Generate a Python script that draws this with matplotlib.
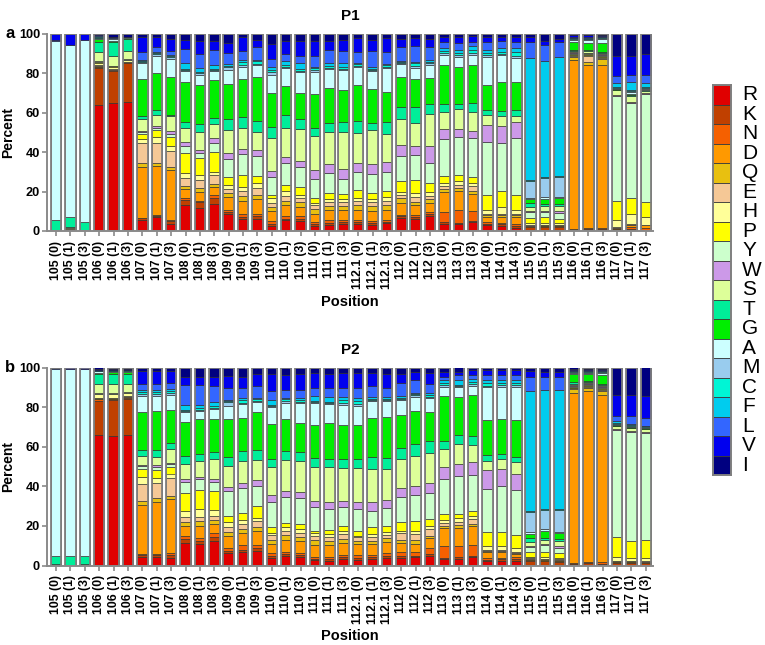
import numpy as np
import matplotlib
matplotlib.use("Agg")
import matplotlib.pyplot as plt

plt.rcParams["font.family"] = ["Liberation Sans", "DejaVu Sans"]

positions = ["105", "106", "107", "108", "109", "110", "111",
             "112.1", "112", "113", "114", "115", "116", "117"]
rounds = ["0", "1", "3"]
bar_labels = [f"{p} ({r})" for p in positions for r in rounds]

residues = ["R", "K", "N", "D", "Q", "E", "H", "P", "Y", "W",
            "S", "T", "G", "A", "M", "C", "F", "L", "V", "I"]
colors = ["#e00000", "#c04000", "#f56000", "#ff9900", "#e8c010",
          "#f5c896", "#ffff99", "#ffff00", "#ccffcc", "#cc99e8",
          "#ddff99", "#00ee99", "#00ee00", "#ccffff", "#99ccee",
          "#00f5d5", "#00ccee", "#3366ff", "#0000ee", "#000080"]

# ---- P1 (percent per residue, one value per bar) ----
p1_R = [.3, 0, 0, 64, 64.9, 65.3, 5.4, 7, 3.7, 13.1, 11.7, 13.9, 8.5, 5.9, 6.3,
        2.5, 5.4, 5.1, 2.5, 3.2, 3.7, 3.4, 2.9, 3.9, 6.6, 5.9, 7.5, 3.7, 3.4, 4.6,
        2.9, 2.5, 1.5, .5, .5, .4, .2, .3, .3, .3, .2, .2]
p1_K = [0, 0, 0, 18.5, 16.4, 20, 1.1, .8, 1.3, 2.4, 2.8, 2.9, 1, 1.1, 1.2,
        .9, .9, 1.1, 1, .8, .9, 1.1, 1.1, .9, .9, 1.1, .9, .6, .8, .6,
        .8, .8, 1, 1.4, 1.5, 1.6, .5, .7, .6, .6, .8, .4]
p1_N = [0, 0, 0, .7, .3, .3, .3, .4, .5, 1, 1, 1.5, 1, 1.5, 1,
        1.6, 1.5, 1.3, 1, 1.4, 1.2, 1, 1, 1, .5, 1, 1.1, 5.4, 6.3, 4.8,
        1, 1, 1.2, .3, .3, .4, .5, .5, .6, .3, 1.2, .8]
p1_D = [0, 0, 0, .3, 0, 0, 25.8, 24.7, 25.4, 4.5, 4.4, 3.8, 6.8, 6.8, 7.5,
        5.2, 5.3, 4.7, 4.3, 5.5, 5.1, 5, 5.2, 5, 6.4, 5, 4.6, 10, 9.7, 8.5,
        2.4, 2.8, 3.4, .3, .3, .3, 85.2, 82, 82.9, .3, .7, 1.5]
p1_Q = [0, 0, 0, .3, .3, 0, 1.9, 1.6, 1.6, 1.7, 2.1, 1.9, 2.1, 2.4, 2.2,
        2.1, 2.2, 2.3, 2.2, 1.6, 1.9, 2.5, 2.3, 2.2, 2.1, 1.9, 1.9, 1.5, 1.3, 1.7,
        .8, 1, 1, .3, .3, .3, 1.7, 1.7, 3, .2, .3, .2]
p1_E = [0, 1, 0, .3, .4, .4, 10, 10.2, 8.1, 4.2, 3.8, 4.4, 2.1, 2.7, 3.4,
        2.1, 2.4, 2, 2, 2.3, 1.8, 2, 2, 2.3, 1.7, 2.5, 1.8, 1.5, 1.5, 2.6,
        .6, .7, .7, .3, .3, .3, .5, 2.9, .5, .2, .3, .2]
p1_H = [0, .5, 0, 1.2, .8, .6, 2.2, 3.2, 3, 2.2, 2.6, 1.6, 1.9, 1.9, 2.5,
        2.1, 2.5, 1.7, 1.3, 1.5, 1.7, 1.8, 1.8, 2.2, 1.7, 1.8, 1.8, 1.5, 2.3, 1.2,
        2.2, 3.4, 1.7, .8, 1, .8, .5, .6, .6, 3.5, 5, 4]
p1_P = [0, 0, 0, .3, .6, .3, 2.7, 3.6, 4.3, 10.2, 8.8, 10.2, 4.2, 6.1, 3.9,
        2, 3.4, 4.2, 2.2, 3.1, 2.7, 3.9, 3.1, 3, 5.6, 6.5, 5, 3.4, 3.1, 3.3,
        7.7, 8, 7.7, 3, 2.7, 2.4, .5, .6, .5, 9.7, 8.1, 7.7]
p1_Y = [.3, 0, 0, .5, .3, .3, .8, 1, 1.6, 3.4, 2.7, 4.3, 9.3, 10.5, 10.2,
        9, 10.7, 10.2, 9.8, 9.8, 7.3, 9, 9.5, 9.5, 12.5, 12.8, 9.7, 19, 19, 19.6,
        27.1, 24.3, 28.8, 2.9, 2.6, 3, .5, .4, .5, 54, 48.8, 55.2]
p1_W = [0, 0, 0, 0, 0, 0, .8, 1, 1.5, 2, 1.5, 2.5, 2.8, 2.7, 2.9,
        2.9, 3.4, 2.9, 4.6, 4.6, 5.1, 4.9, 4.9, 5.1, 5.3, 4.4, 9, 4.8, 4.2, 3.4,
        8.5, 9, 8.5, .5, .8, 1, .3, .2, .3, .3, .3, .3]
p1_S = [0, .5, .3, 4.7, 4.6, 4.3, 5.6, 5.5, 7.5, 7.2, 9, 7.2, 12, 10.5, 9.3,
        17, 14.8, 16.3, 17.5, 16.3, 18.7, 15, 17.5, 14, 13.2, 11.9, 16.1, 8.5, 10.2, 9.8,
        4.8, 5.1, 3.1, 2.1, 2.2, 2.5, .5, .6, .6, 2.3, 3.4, 1.3]
p1_T = [4.8, 5, 4.2, 5, 7.3, 6, 1.7, 2.4, .8, 3, 3.8, 3.4, 5.3, 5.8, 5.6,
        5.4, 6.4, 5.1, 4.1, 4.6, 5.4, 6.3, 3.4, 6.4, 6.1, 8, 4.9, 4.3, 2.5, 4.3,
        2.9, 2.4, 2.9, 2, 1, 1, .6, .5, .5, .3, .6, .3]
p1_G = [0, 0, 0, 1.5, .8, .5, 19, 19, 19.2, 20.4, 20.3, 18.8, 18.1, 19.3, 21.9,
        17, 14.8, 13, 16.9, 17.8, 16.1, 18, 17.3, 15.3, 15.3, 14.4, 13.6, 19.5, 18.7, 19.5,
        12.7, 14.6, 14.1, 2.2, 2.5, 3.4, 4.2, 3.8, 4.6, .2, .3, .3]
p1_A = [91.3, 87.5, 92.5, .7, .8, .3, 7.8, 8.5, 9.5, 5.1, 5.1, 4.9, 6.7, 6.3, 6.5,
        9.5, 9, 10.6, 11.1, 9.7, 10.2, 9.1, 9, 11.9, 6.5, 5.6, 6.5, 5.1, 5.1, 5.1,
        13.9, 13.5, 12.2, .5, 1.3, .6, 1, 1.5, 2.2, .3, .8, .4]
p1_M = [0, 0, 0, .2, .3, 0, .5, .7, .7, .8, .9, .5, 1.8, 1, .5,
        1.2, .7, .8, 1, .7, .6, .6, .6, .7, .5, .7, .7, 1, .6, 1,
        1, .8, 1, 8.5, 9.7, 10.2, .3, .3, .3, .3, .5, .3]
p1_C = [0, 0, 0, .3, .2, 0, .7, .6, .7, .7, .6, .5, .5, 1.5, 1.2,
        1, 1.1, .8, 1, .8, .6, 1, .6, .8, .5, 1.5, .9, 1, 1.3, 1.5,
        1.3, 1.2, 2, .5, .5, .5, .3, .4, .3, .7, .7, .6]
p1_F = [0, 0, 0, .3, 0, 0, .6, .6, .7, 2.6, 1.8, 2.1, .8, 1, .8,
        2, 1.7, 3, 1, 1.5, 2.2, .7, 1, .8, .6, .9, .8, 1.5, 1.5, 1.7,
        1.6, 1.8, 2.1, 62.7, 58.6, 62.3, .3, .4, .3, 2, 4.2, 2.3]
p1_L = [.3, 0, 0, .7, .3, .3, 4.1, 2.5, 2, 7.3, 7.1, 7.3, 5.8, 4.2, 6.2,
        3.9, 3.9, 3.4, 5.1, 6.8, 6.3, 5.4, 8.3, 6, 6.8, 8, 6.4, 3.4, 3.4, 2.5,
        3.9, 3.4, 3, 8.1, 8.5, 7.8, .5, .4, .3, 3.4, 3.7, 4]
p1_V = [3, 5.5, 3, .3, .4, 0, 7.5, 5, 6.2, 4.6, 6.5, 4.6, 5.1, 7.1, 3.9,
        7.5, 6.3, 7.7, 8, 4.6, 5.6, 7.3, 5.6, 7.2, 4.3, 4, 4.4, 2.5, 3.1, 2.6,
        2.5, 2, 2.5, 2.4, 1.7, 1.7, .9, 1, .6, 10.2, 9.3, 10.8]
p1_I = [0, 0, 0, .2, 1.3, 1.4, 1.5, 1.7, 2.3, 2.9, 3.7, 3.7, 4.6, 1.7, 2.9,
        5.1, 3.7, 3.7, 3.4, 3.4, 2.9, 2, 2.9, 2, 2.5, 2, 2.4, 1.3, 1.5, 1.2,
        1.6, 1.7, 1.6, 1.7, 3.7, 2.4, .5, .5, .5, 11.4, 11.4, 10.2]

# ---- P2 ----
p2_R = [.4, 0, .5, 66.7, 66.2, 66.8, 4.1, 4.5, 4, 11.5, 10.8, 12.2, 6.1, 6.6, 7.4,
        3.6, 4.6, 4.1, 2.7, 2.5, 3.4, 3, 3.2, 4, 3.9, 4.1, 4.9, 3.2, 3.2, 4.1,
        2.4, 2.2, 2.2, .5, .5, .4, .2, .3, .3, .4, .3, .3]
p2_K = [0, 0, 0, 17.7, 17.9, 18.3, 1.2, 1, 1.5, 1.9, 1.7, 2.4, 1.2, 1.2, 1.4,
        1, 1.2, 1.2, .8, .9, 1, 1, 1.1, 1, 1.1, .9, 1.1, .8, 1, .5,
        .5, 1, 1, 1.9, 1.8, 1.5, .7, 1.1, .6, 1, 1, .8]
p2_N = [0, 0, 0, .8, .6, .5, .5, .5, .6, 1.6, 1.5, 1.6, 1.7, 2.5, 1.7,
        1.5, 1, 1.2, 1, 1.1, 1.1, 1.3, 1.1, 1.5, 2, 1.8, 2.6, 5.6, 5.8, 5.7,
        .8, .7, 1.3, .3, .3, .3, .3, .5, 1, .3, .3, .3]
p2_D = [0, 0, 0, .3, .3, .3, 24.8, 26, 27.1, 5.1, 6.1, 4.8, 6.1, 5.9, 7.1,
        4.7, 6.2, 5.7, 6, 6, 5.7, 5.5, 5.4, 5.5, 4.3, 4, 5.2, 9.2, 8.8, 9.8,
        3.2, 3, 1.3, .3, .3, .3, 86.3, 86.8, 85.1, .2, .3, .3]
p2_Q = [0, 0, 0, .3, .3, .3, 1.7, 2.2, 1.8, 1.9, 2.4, 2, 1.9, 2.3, 1.7,
        2.2, 2.3, 2.1, 2.5, 2, 2.3, 1.5, 1.7, 1.8, 1.7, 2.2, 1.2, 1.2, 1.5, .9,
        .6, .5, .5, .3, .3, .4, 2, 1.5, 1.7, .2, .2, .2]
p2_E = [0, 0, 0, .3, .3, .3, 9, 7.6, 8.8, 2.4, 1.8, 2.2, 2.6, 2.7, 3,
        2.4, 2.1, 2.2, 2, 2, 2.2, 1.9, 2, 1.7, 3.4, 2.9, 3.4, 1.3, 1.9, 2.4,
        .5, .5, .5, .3, .3, .3, .4, .4, .4, .2, .2, .2]
p2_H = [0, 0, 0, 1.7, 1.6, 1.4, 3.4, 2.5, 2.2, 3.3, 4.3, 2.8, 2.5, 1.8, 1.7,
        1, 2.1, 2.2, 1.4, 1.5, 1.8, .5, 1.5, 1.5, 1, 1.4, 1.6, 1.7, 1.7, 1.4,
        2, 1.7, 1.8, .7, .8, .8, .4, .5, .8, 2.2, 1.3, 1.7]
p2_P = [0, 0, 0, .3, .3, .3, 3.9, 3.8, 3.2, 9, 9.6, 9.4, 2.9, 3.6, 5.9,
        2.9, 2, 2.2, 1.4, 1.8, 2.3, 2.9, 3.3, 3.1, 4.4, 5.4, 3.5, 3.1, 2.2, 2.8,
        6.8, 7.2, 6.8, 2.5, 2.9, 2.2, .5, .5, .5, 10.1, 8.9, 9.3]
p2_Y = [0, 0, 0, .4, .4, .3, 1.4, 1.9, 1.8, 5.4, 5.3, 4.7, 12.7, 12.7, 10.2,
        13, 13, 13.4, 11.8, 10.8, 9.6, 10.7, 8.1, 9, 12.7, 13, 13, 17.7, 19, 18.2,
        21.6, 23.3, 22.5, 2.5, 3.4, 2.5, .5, .5, .5, 55.3, 55.9, 55]
p2_W = [0, 0, 0, 0, 0, 0, .7, .7, .5, 1.7, 1, 1.6, 1.9, 2.3, 2.9,
        3.1, 2.9, 2.7, 3.4, 3.4, 3.4, 3.7, 4.9, 4.2, 4.6, 4.7, 5.3, 5.9, 5.9, 6.4,
        9.7, 8.8, 8.5, .5, .5, 1, .3, .3, .3, .3, .3, .3]
p2_S = [.3, .3, .3, 4.5, 4.6, 4.3, 4.3, 4, 6.8, 7.6, 8.1, 9.9, 11.1, 11, 10.5,
        14.3, 16.1, 15.9, 17.2, 17.6, 16.4, 17.2, 16.3, 15.3, 14.9, 14.9, 15.2, 9, 10.3, 8.8,
        4.7, 4.7, 5.9, 2.3, 2.3, 2.5, .7, .6, .8, 1.3, 1.6, 1.6]
p2_T = [4.2, 4.5, 3.8, 5.1, 5, 5, 3.2, 3.4, 2.9, 3.8, 3.4, 3.8, 4.2, 5.1, 4.7,
        4.3, 4.4, 4.4, 4.8, 4, 4.4, 4.8, 6.2, 5.7, 5.4, 6.3, 5.8, 4.1, 4.4, 4.4,
        2.9, 2.9, 2.5, 2, 1, 1, .6, .5, .6, .3, .3, .3]
p2_G = [0, 0, 0, .8, .9, .8, 19.2, 19.8, 16.4, 17.4, 17.8, 16.5, 19.5, 16.9, 19.1,
        17.6, 16, 15.1, 16.9, 18.6, 17.3, 16.9, 19.5, 20.8, 16.6, 16.4, 14.9, 23, 19.5, 20.6,
        17.7, 17.4, 18.6, 2.2, 3.7, 3.2, 4.4, 3.9, 4.5, .2, .2, .2]
p2_A = [94.4, 94.2, 94.4, .6, .5, .5, 7.9, 7.7, 7.8, 5.1, 3.9, 5.1, 6.7, 6.8, 5.4,
        8.3, 8.3, 9.8, 11, 9.2, 10.1, 9.6, 8.8, 8, 7.6, 7.3, 7.1, 4.6, 5.1, 4.8,
        16.5, 16.5, 17, .6, .9, .5, .6, .5, 1, .3, .3, .3]
p2_M = [0, 0, 0, .2, .2, .2, 1, 1, 1, .5, .7, .7, 1.7, .7, .6,
        .7, .7, .7, .6, .7, 1.2, 1.3, .6, .6, .5, .6, .5, .6, .5, .7,
        .5, .6, .6, 10.2, 10.1, 11.3, .3, .3, .4, .3, .3, .3]
p2_C = [0, 0, 0, .2, .2, .2, 1, .9, 1, .5, 1, .7, .5, 1.3, .7,
        .7, 1.1, .7, .6, .7, 1.3, 1.3, .6, .6, .6, .6, .8, 1.2, .5, 1.2,
        1.5, 1.3, 1.3, .5, .5, .5, .3, .3, .3, .6, .3, .3]
p2_F = [0, 0, 0, .2, .2, .2, 1.1, 1, 1, 2.3, 1.4, 2.2, .6, 1, .7,
        2.3, .5, 1.1, 2.2, 2.5, 1.8, 1.7, .8, .7, .9, .5, .8, 1.5, 2.3, 1.4,
        1.5, 1.4, 1.4, 61.6, 61.6, 60.5, .3, .3, .3, 1.2, .5, .3]
p2_L = [.2, 0, 0, .2, .2, .2, 2.9, 3, 2.7, 10.2, 10.2, 8.2, 6.3, 5.4, 6.2,
        4.6, 4.2, 4.3, 4.2, 4.5, 4.5, 4.7, 5.8, 4.8, 6.4, 6.5, 4.6, 1.5, 2.5, 2.1,
        2.5, 2.6, 2.6, 7.2, 6.8, 6.7, .4, .3, .5, 2.5, 4.2, 3.9]
p2_V = [.5, 1, 1, .2, .3, .3, 6.5, 6.5, 6.2, 4.2, 4.2, 4.5, 6, 5.6, 5.7,
        8.4, 7.6, 7.9, 7.6, 6.8, 7.3, 7.6, 6.2, 6.8, 4.6, 4, 5.6, 2.3, 1.7, 2.5,
        2.5, 2.5, 2.5, 2.9, 2.7, 2.2, .5, .4, .4, 11, 11, 11.4]
p2_I = [0, 0, 0, 1, .9, .8, 2, 2, 1.7, 4.6, 4.6, 4.6, 4.2, 4.6, 3.4,
        3.4, 3.7, 3.4, 2.9, 3.4, 2.9, 2.9, 2.9, 3.4, 3.4, 2.5, 2.9, 2.5, 2.1, 1.2,
        1.3, 1.2, 1.2, 1.7, 2.4, 2.4, .8, 1, .8, 13.9, 13.9, 14.7]

p1 = [p1_R, p1_K, p1_N, p1_D, p1_Q, p1_E, p1_H, p1_P, p1_Y, p1_W,
      p1_S, p1_T, p1_G, p1_A, p1_M, p1_C, p1_F, p1_L, p1_V, p1_I]
p2 = [p2_R, p2_K, p2_N, p2_D, p2_Q, p2_E, p2_H, p2_P, p2_Y, p2_W,
      p2_S, p2_T, p2_G, p2_A, p2_M, p2_C, p2_F, p2_L, p2_V, p2_I]

W, H = 765, 645
AXIS_GRAY = "#8a8a8a"
BAR_W = 0.73


def draw_panel(ax, series, title, letter, letter_y):
    x = np.arange(len(bar_labels))
    data = np.array(series, dtype=float)
    data = data / data.sum(axis=0) * 100  # stacks are percentages
    bottom = np.zeros(len(x))
    for vals, col in zip(data, colors):
        keep = vals > 0
        ax.bar(x[keep], vals[keep], width=BAR_W, bottom=bottom[keep], color=col,
               edgecolor="#2b2b2b", linewidth=0.45)
        bottom += vals
    ax.bar(x, bottom, width=BAR_W, fill=False, edgecolor="#7f7f7f", linewidth=1.3)

    ax.set_xlim(-0.63, 41.5)
    ax.set_ylim(0, 100)
    for side in ["top", "right"]:
        ax.spines[side].set_visible(False)
    for side in ["left", "bottom"]:
        ax.spines[side].set_color(AXIS_GRAY)
        ax.spines[side].set_linewidth(1.4)
    ax.set_yticks([0, 20, 40, 60, 80, 100])
    ax.set_yticklabels(["0", "20", "40", "60", "80", "100"], fontsize=9.2, fontweight="bold")
    ax.set_xticks(x)
    ax.set_xticklabels(bar_labels, rotation=90, fontsize=8.8, fontweight="bold")
    ax.tick_params(axis="both", colors=AXIS_GRAY, labelcolor="black", length=3.5, width=1.2)
    ax.tick_params(axis="y", pad=1.5)
    ax.set_ylabel("Percent", fontsize=10, fontweight="bold")
    ax.yaxis.set_label_coords(-0.052, 0.5)
    ax.set_xlabel("Position", fontsize=10.5, fontweight="bold", labelpad=4)
    ax.set_title(title, fontsize=11, fontweight="bold", pad=10)
    ax.figure.text(10 / W, 1 - letter_y / H, letter, fontsize=12, fontweight="bold",
                   ha="center", va="center")


fig = plt.figure(figsize=(W / 100, H / 100), dpi=100)

ax1 = fig.add_axes([47 / W, 1 - 231 / H, 606 / W, 197 / H])
draw_panel(ax1, p1, "P1", "a", 33)

ax2 = fig.add_axes([47 / W, 1 - 565.5 / H, 606 / W, 198 / H])
draw_panel(ax2, p2, "P2", "b", 367)

# colour key on the right
lax = fig.add_axes([712.5 / W, 1 - 475 / H, 18.5 / W, 390 / H])
n = len(residues)
ypos = np.arange(n)[::-1]
lax.barh(ypos, np.ones(n), height=1, left=0, color=colors, edgecolor="#3a3a3a", linewidth=0.6)
lax.set_xlim(0, 1)
lax.set_ylim(-0.5, n - 0.5)
lax.set_xticks([])
lax.set_yticks([])
for s in lax.spines.values():
    s.set_color("#7f7f7f")
    s.set_linewidth(1.4)
for yy, name in zip(ypos, residues):
    lax.text(1.6, yy, name, fontsize=15, ha="left", va="center", clip_on=False)

fig.savefig("out.png", dpi=100)
print("Saved out.png")
